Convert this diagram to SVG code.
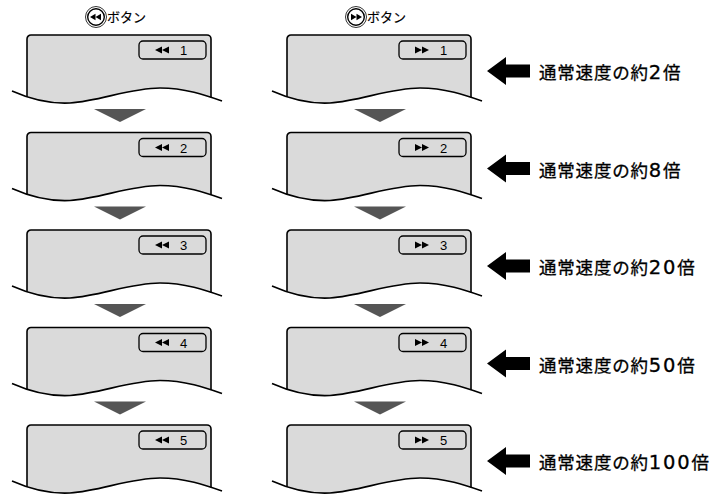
<svg xmlns="http://www.w3.org/2000/svg" width="726" height="496" viewBox="0 0 726 496">
<style>
.pf{fill:#dadada;stroke:#000;stroke-width:1.6}
.wave{fill:none;stroke:#000;stroke-width:1.6}
.disp{fill:#dadada;stroke:#000;stroke-width:1.3}
.num{font-family:"Liberation Sans",Arial,sans-serif;font-size:13px;fill:#000}
.lbl{font-family:"Noto Sans CJK JP","Noto Sans",sans-serif;font-size:17.5px;letter-spacing:0.8px;fill:#000;stroke:#000;stroke-width:0.3}
.d{font-family:"DejaVu Sans",sans-serif;font-size:19.5px;letter-spacing:1.8px}
.btn{font-family:"Noto Sans CJK JP","Noto Sans",sans-serif;font-size:13px;fill:#000;stroke:#000;stroke-width:0.2}
.tri{fill:#555}
</style>
<defs>
<clipPath id="cw" clipPathUnits="userSpaceOnUse">
<path d="M-15,-5 L-15,56 C3,64 23,69 43,68 C73,66 103,53 133,53 C158,53 178,60 195,66 L195,-5 Z"/>
</clipPath>
<g id="panel">
<rect class="pf" x="0" y="0" width="184" height="90" rx="4" clip-path="url(#cw)"/>
<path class="wave" d="M-15,56 C3,64 23,69 43,68 C73,66 103,53 133,53 C158,53 178,60 195,66"/>
<rect class="disp" x="112" y="6" width="67" height="18" rx="4"/>
</g>
<g id="rew"><polygon points="128,15 135,11.5 135,18.5"/><polygon points="135,15 142,11.5 142,18.5"/></g>
<g id="ff"><polygon points="135,15 128,11.5 128,18.5"/><polygon points="142,15 135,11.5 135,18.5"/></g>
</defs>

<g id="btn-rew">
<circle cx="96" cy="17" r="10.5" fill="#fff" stroke="#000" stroke-width="0.8"/>
<circle cx="96" cy="17" r="8.3" fill="#fff" stroke="#000" stroke-width="1.4"/>
<polygon points="90,17 95.5,13.8 95.5,20.2"/><polygon points="95.5,17 101,13.8 101,20.2"/>
<text class="btn" x="107" y="22">ボタン</text>
</g>
<g id="btn-ff">
<circle cx="356" cy="17" r="10.5" fill="#fff" stroke="#000" stroke-width="0.8"/>
<circle cx="356" cy="17" r="8.3" fill="#fff" stroke="#000" stroke-width="1.4"/>
<polygon points="356.5,17 351,13.8 351,20.2"/><polygon points="362,17 356.5,13.8 356.5,20.2"/>
<text class="btn" x="367" y="22">ボタン</text>
</g>

<g id="rew1" transform="translate(27,35)"><use href="#panel"/><use href="#rew"/><text class="num" x="153" y="20">1</text></g>
<g id="rew2" transform="translate(27,132.5)"><use href="#panel"/><use href="#rew"/><text class="num" x="153" y="20">2</text></g>
<g id="rew3" transform="translate(27,230)"><use href="#panel"/><use href="#rew"/><text class="num" x="153" y="20">3</text></g>
<g id="rew4" transform="translate(27,327.5)"><use href="#panel"/><use href="#rew"/><text class="num" x="153" y="20">4</text></g>
<g id="rew5" transform="translate(27,425)"><use href="#panel"/><use href="#rew"/><text class="num" x="153" y="20">5</text></g>

<g id="ff1" transform="translate(287,35)"><use href="#panel"/><use href="#ff"/><text class="num" x="153" y="20">1</text></g>
<g id="ff2" transform="translate(287,132.5)"><use href="#panel"/><use href="#ff"/><text class="num" x="153" y="20">2</text></g>
<g id="ff3" transform="translate(287,230)"><use href="#panel"/><use href="#ff"/><text class="num" x="153" y="20">3</text></g>
<g id="ff4" transform="translate(287,327.5)"><use href="#panel"/><use href="#ff"/><text class="num" x="153" y="20">4</text></g>
<g id="ff5" transform="translate(287,425)"><use href="#panel"/><use href="#ff"/><text class="num" x="153" y="20">5</text></g>

<g id="connectors">
<polygon class="tri" points="94,109 146,109 120,122"/>
<polygon class="tri" points="94,206.5 146,206.5 120,219.5"/>
<polygon class="tri" points="94,304 146,304 120,317"/>
<polygon class="tri" points="94,401.5 146,401.5 120,414.5"/>
<polygon class="tri" points="354,109 406,109 380,122"/>
<polygon class="tri" points="354,206.5 406,206.5 380,219.5"/>
<polygon class="tri" points="354,304 406,304 380,317"/>
<polygon class="tri" points="354,401.5 406,401.5 380,414.5"/>
<polygon points="487,71 506,57 506,64.5 530,64.5 530,77.5 506,77.5 506,85"/>
<polygon points="487,168.5 506,154.5 506,162 530,162 530,175 506,175 506,182.5"/>
<polygon points="487,266 506,252 506,259.5 530,259.5 530,272.5 506,272.5 506,280"/>
<polygon points="487,363.5 506,349.5 506,357 530,357 530,370 506,370 506,377.5"/>
<polygon points="487,461 506,447 506,454.5 530,454.5 530,467.5 506,467.5 506,475"/>
</g>

<g id="label1"><text class="lbl" x="539" y="79">通常速度の約<tspan class="d">2</tspan>倍</text></g>
<g id="label2"><text class="lbl" x="539" y="176.5">通常速度の約<tspan class="d">8</tspan>倍</text></g>
<g id="label3"><text class="lbl" x="539" y="274">通常速度の約<tspan class="d">20</tspan>倍</text></g>
<g id="label4"><text class="lbl" x="539" y="371.5">通常速度の約<tspan class="d">50</tspan>倍</text></g>
<g id="label5"><text class="lbl" x="539" y="469">通常速度の約<tspan class="d">100</tspan>倍</text></g>
</svg>
